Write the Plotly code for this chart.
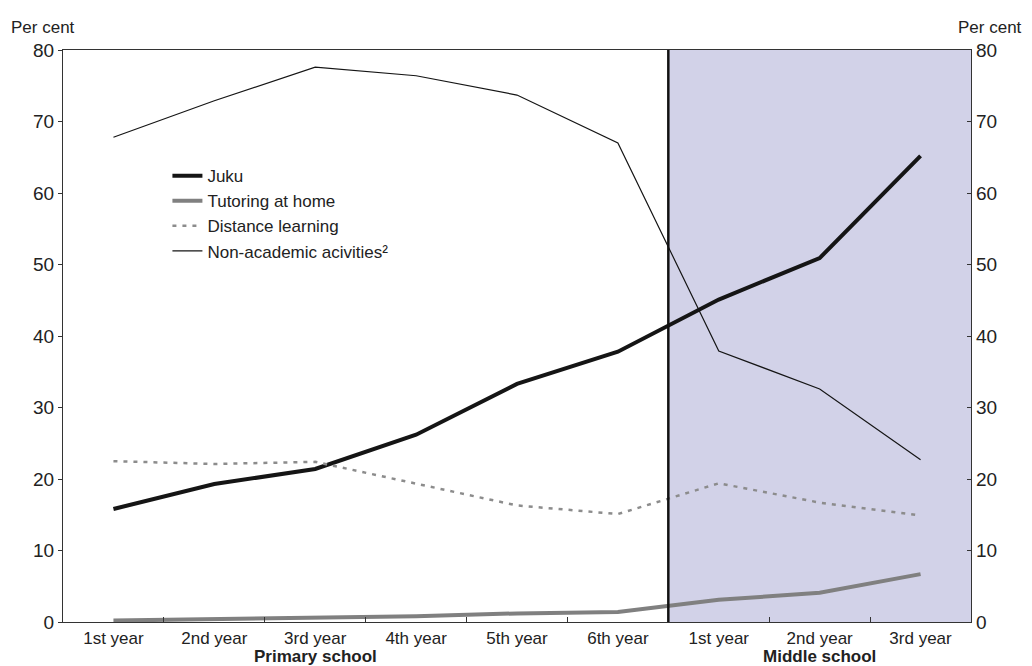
import plotly.graph_objects as go

categories = ["1st year", "2nd year", "3rd year", "4th year", "5th year", "6th year",
              "1st year", "2nd year", "3rd year"]
juku = [15.8, 19.3, 21.4, 26.2, 33.3, 37.8, 45.1, 50.9, 65.2]
tutoring = [0.2, 0.4, 0.6, 0.8, 1.2, 1.4, 3.1, 4.1, 6.7]
distance = [22.5, 22.1, 22.4, 19.3, 16.3, 15.1, 19.4, 16.7, 14.9]
nonacademic = [67.8, 72.9, 77.6, 76.4, 73.7, 67.0, 37.9, 32.6, 22.7]
groups = ["Primary school", "Middle school"]
y_ticks = [0, 10, 20, 30, 40, 50, 60, 70, 80]

FONT = "Liberation Sans, Arial, sans-serif"
xs = list(range(len(categories)))

fig = go.Figure()
fig.add_trace(go.Scatter(x=xs, y=juku, mode="lines", name="Juku",
                         line=dict(color="#151515", width=4)))
fig.add_trace(go.Scatter(x=xs, y=tutoring, mode="lines", name="Tutoring at home",
                         line=dict(color="#808080", width=4)))
fig.add_trace(go.Scatter(x=xs, y=distance, mode="lines", name="Distance learning",
                         line=dict(color="#8c8c8c", width=2.5, dash="4px,6px")))
fig.add_trace(go.Scatter(x=xs, y=nonacademic, mode="lines", name="Non-academic acivities²",
                         line=dict(color="#151515", width=1.2)))
# invisible trace for right axis
fig.add_trace(go.Scatter(x=[xs[0]], y=[y_ticks[0]], yaxis="y2", mode="markers",
                         marker=dict(opacity=0), showlegend=False, hoverinfo="skip"))

n = len(categories)
split = 5.5
fig.add_shape(type="rect", xref="x", yref="y", x0=split, x1=n - 0.5, y0=0, y1=80,
              fillcolor="#D2D2E8", line=dict(width=0), layer="below")
fig.add_shape(type="line", xref="x", yref="y", x0=split, x1=split, y0=0, y1=80,
              line=dict(color="#111111", width=2.5), layer="above")

fig.update_layout(
    width=1024, height=658,
    margin=dict(l=55, r=61, t=42, b=44),
    paper_bgcolor="white", plot_bgcolor="white",
    font=dict(family=FONT, size=17, color="#222222"),
    showlegend=True,
    legend=dict(x=0.115, y=0.811, xanchor="left", yanchor="top",
                bgcolor="rgba(0,0,0,0)", font=dict(size=17, family=FONT),
                tracegroupgap=0, itemwidth=30),
    xaxis=dict(range=[-0.5, n - 0.5], tickmode="array", tickvals=xs, ticktext=categories,
               ticks="", showgrid=False, zeroline=False,
               showline=True, linecolor="#333333", linewidth=1.2, mirror=True,
               tickfont=dict(size=17, family=FONT, color="#222222"),
               minor=dict(tickmode="array", tickvals=[i + 0.5 for i in range(n - 1)],
                          ticks="inside", ticklen=5, tickcolor="#333333", tickwidth=1,
                          showgrid=False)),
    yaxis=dict(range=[0, 80], tickmode="array", tickvals=y_ticks, ticks="outside",
               ticklen=4, tickcolor="#333333", showgrid=False, zeroline=False,
               showline=True, linecolor="#333333", linewidth=1.2,
               tickfont=dict(size=19, family=FONT, color="#222222")),
    yaxis2=dict(range=[0, 80], tickmode="array", tickvals=y_ticks, ticks="inside",
                ticklen=4, tickcolor="#333333", overlaying="y", side="right",
                showgrid=False, zeroline=False, showline=True, linecolor="#333333",
                linewidth=1.2, tickfont=dict(size=19, family=FONT, color="#222222")),
)

fig.add_annotation(text="Per cent", xref="paper", yref="paper", x=-0.06, y=1.04,
                   xanchor="left", yanchor="middle", showarrow=False,
                   font=dict(size=17, family=FONT, color="#222222"))
fig.add_annotation(text="Per cent", xref="paper", yref="paper", x=1.058, y=1.04,
                   xanchor="right", yanchor="middle", showarrow=False,
                   font=dict(size=17, family=FONT, color="#222222"))
fig.add_annotation(text="<b>" + groups[0] + "</b>", xref="x", yref="paper", x=2, y=-0.061,
                   xanchor="center", yanchor="middle", showarrow=False,
                   font=dict(size=17, family=FONT, color="#222222"))
fig.add_annotation(text="<b>" + groups[1] + "</b>", xref="x", yref="paper", x=7, y=-0.061,
                   xanchor="center", yanchor="middle", showarrow=False,
                   font=dict(size=17, family=FONT, color="#222222"))

fig.write_html("out.html")
